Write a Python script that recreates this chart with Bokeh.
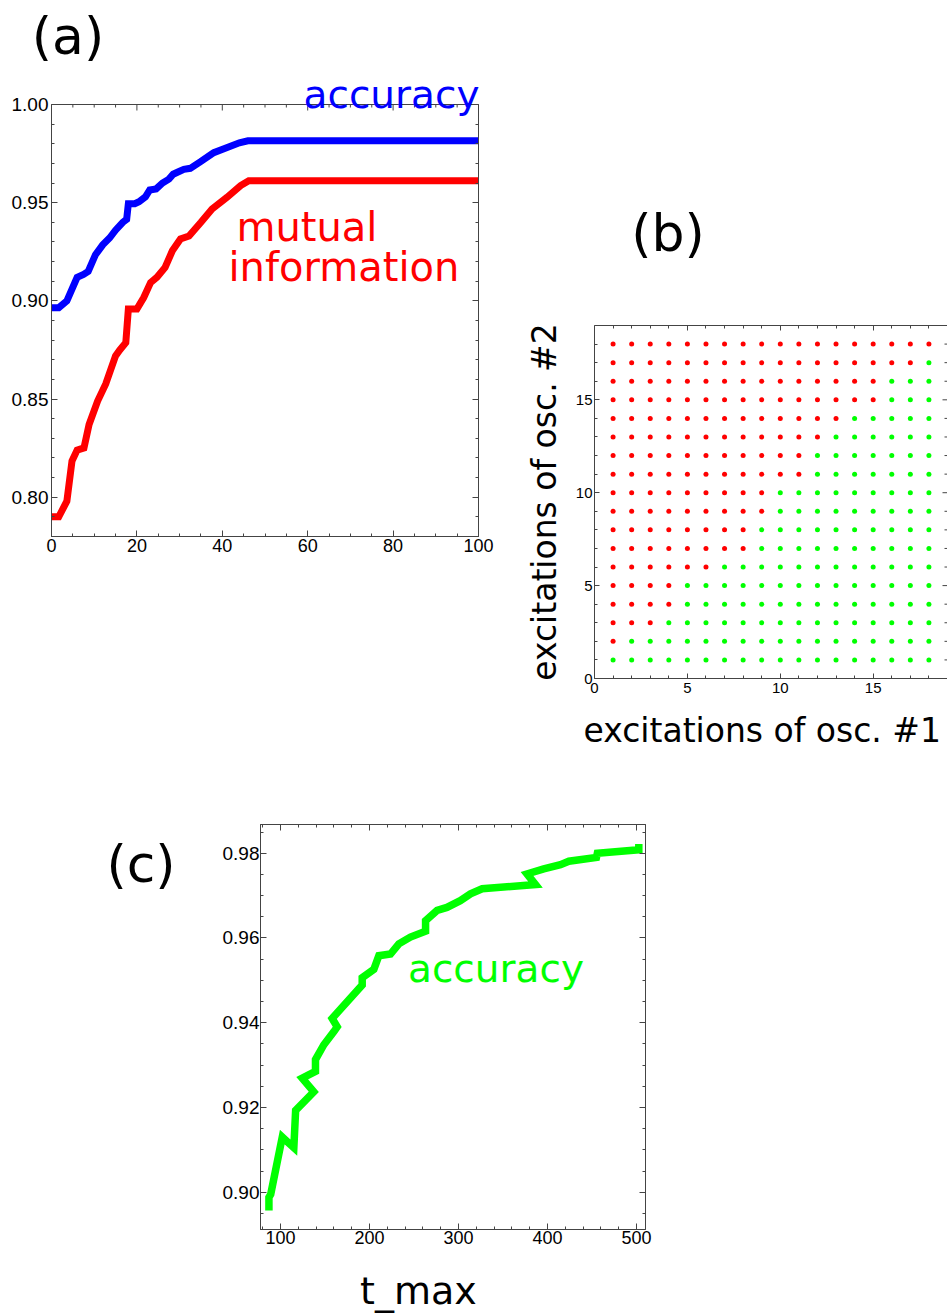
import math
from bokeh.plotting import figure
from bokeh.models import Range1d, LinearAxis, FixedTicker, Label, PrintfTickFormatter, Title
from bokeh.layouts import column, row
from bokeh.embed import file_html
from bokeh.resources import INLINE

# ---------------- data ----------------
# (a) accuracy / mutual information
acc_x = [0, 1.7, 3.6, 4.8, 6, 7.5, 8.6, 10.3, 12, 13.6, 15, 16.7, 17.6, 18, 19.5, 20.5,
         22, 23, 24.5, 26, 27.5, 28.5, 30, 31, 32.5, 35, 38, 41, 44, 46, 100]
acc_y = [0.8965, 0.8965, 0.900, 0.906, 0.912, 0.9135, 0.9150, 0.9235, 0.9285, 0.932, 0.936,
         0.940, 0.9415, 0.9495, 0.9495, 0.9505, 0.953, 0.9565, 0.957, 0.960, 0.962, 0.9645,
         0.966, 0.9670, 0.9675, 0.971, 0.9755, 0.978, 0.9805, 0.9815, 0.9815]
mi_x = [0, 1.7, 3.6, 4.8, 6, 7.6, 8.8, 10.8, 12.7, 15, 16, 17.4, 18, 20, 21.6, 23.2, 24.7,
        26.6, 28.3, 30.2, 32.2, 35, 37.6, 41.1, 44.3, 46.2, 100]
mi_y = [0.790, 0.790, 0.798, 0.8184, 0.824, 0.8251, 0.837, 0.849, 0.8577, 0.872, 0.875,
        0.8787, 0.8958, 0.8958, 0.9017, 0.9093, 0.912, 0.917, 0.9255, 0.9315, 0.933, 0.940,
        0.9468, 0.9527, 0.9587, 0.9612, 0.9612]

# (b) for each row (excitations of osc. #2 = 1..18): number of red points from the left
b_rows = list(range(1, 19))
b_cols = list(range(1, 19))
b_red_count = [0, 1, 3, 4, 4, 6, 8, 8, 9, 9, 11, 11, 12, 13, 15, 15, 17, 18]

# (c) accuracy vs t_max
c_t = [87, 87, 89, 102, 115, 117, 122.5, 137.4, 124.4, 139.3, 139.3, 148.7, 160, 163.7, 158,
       191.8, 191.8, 204.9, 210.5, 223.6, 233, 246, 263, 263, 276, 287, 302, 313.5, 326.6,
       386.5, 377, 395.8, 414.6, 424, 455, 456, 502.6, 502.6]
c_acc = [0.8957, 0.8988, 0.8995, 0.9130, 0.9105, 0.9193, 0.9205, 0.9237, 0.9269, 0.9285,
         0.9313, 0.9348, 0.9379, 0.9390, 0.9410, 0.9489, 0.9506, 0.9526, 0.9558, 0.9562,
         0.9586, 0.9602, 0.9616, 0.9641, 0.9665, 0.9672, 0.9688, 0.9704, 0.9716, 0.9726,
         0.9751, 0.9763, 0.9773, 0.9781, 0.9790, 0.9800, 0.9808, 0.9822]

# ticks
a_xticks = [0, 20, 40, 60, 80, 100]
a_xminor = [5, 10, 15, 25, 30, 35, 45, 50, 55, 65, 70, 75, 85, 90, 95]
a_yticks = [0.80, 0.85, 0.90, 0.95, 1.00]
a_yminor = [0.78, 0.79, 0.81, 0.82, 0.83, 0.84, 0.86, 0.87, 0.88, 0.89, 0.91, 0.92, 0.93,
            0.94, 0.96, 0.97, 0.98, 0.99]
b_ticks = [0, 5, 10, 15]
b_minor = [1, 2, 3, 4, 6, 7, 8, 9, 11, 12, 13, 14, 16, 17, 18]
c_xticks = [100, 200, 300, 400, 500]
c_xminor = [80, 120, 140, 160, 180, 220, 240, 260, 280, 320, 340, 360, 380, 420, 440, 460, 480]
c_yticks = [0.90, 0.92, 0.94, 0.96, 0.98]
c_yminor = [0.895, 0.905, 0.91, 0.915, 0.925, 0.93, 0.935, 0.945, 0.95, 0.955, 0.965, 0.97,
            0.975, 0.985]

TICK_FONT = "Liberation Sans"
LAB_FONT = "DejaVu Sans"
FRAME_COL = "#444444"
BASE_K = 0.38   # label anchor correction (fraction of font size)


def make_fig(w, h, xr, yr, bl, br, bt, bb, outline=True):
    p = figure(width=w, height=h, x_range=Range1d(*xr), y_range=Range1d(*yr), title=None,
               output_backend="svg", toolbar_location=None,
               min_border_left=bl, min_border_right=br, min_border_top=bt, min_border_bottom=bb,
               outline_line_color=FRAME_COL if outline else None,
               background_fill_color="white", border_fill_color="white")
    p.grid.visible = False
    return p


def text_fig(w, h, left, top):
    # blank canvas whose data coordinates are page pixels (y downwards)
    p = figure(width=w, height=h, x_range=Range1d(left, left + w),
               y_range=Range1d(top + h, top), title=None,
               output_backend="svg", toolbar_location=None,
               min_border_left=0, min_border_right=0, min_border_top=0, min_border_bottom=0,
               x_axis_type=None, y_axis_type=None, outline_line_color=None,
               background_fill_color="white", border_fill_color="white")
    return p


def style_axis(ax, fsize, maj, mnr, hidden=False):
    ax.major_tick_in = maj
    ax.major_tick_out = 0
    ax.minor_tick_in = mnr
    ax.minor_tick_out = 0
    ax.axis_line_color = FRAME_COL
    ax.major_tick_line_color = FRAME_COL
    ax.minor_tick_line_color = FRAME_COL
    ax.major_label_text_font = TICK_FONT
    ax.major_label_text_font_size = fsize
    ax.major_label_text_color = "black"
    if hidden:
        ax.major_label_text_font_size = "0px"
        ax.major_label_text_color = None
        ax.major_label_standoff = 0


def page_to_data(frame, xr, yr):
    fl, ft, fr, fb = frame

    def conv(px, py):
        x = xr[0] + (px - fl) / (fr - fl) * (xr[1] - xr[0])
        y = yr[1] - (py - ft) / (fb - ft) * (yr[1] - yr[0])
        return x, y
    return conv


def ident(px, py):
    return px, py


def lab(p, conv, text, px, py, size, color="black", align="left"):
    x, y = conv(px, py - BASE_K * size)
    p.add_layout(Label(x=x, y=y, text=text, text_font=LAB_FONT,
                       text_font_size="%dpx" % size, text_color=color, text_align=align,
                       text_baseline="alphabetic"))


# ---------------- panel (a) ----------------
A_XR = (0, 100)
A_YR = (0.78, 1.00)
A_FRAME = (51, 104, 478, 536)
pa = make_fig(515, 490, A_XR, A_YR, 51, 37, 28, 30)
pa.xaxis.ticker = FixedTicker(ticks=a_xticks, minor_ticks=a_xminor)
pa.yaxis.ticker = FixedTicker(ticks=a_yticks, minor_ticks=a_yminor)
pa.xaxis.formatter = PrintfTickFormatter(format="%d")
pa.yaxis.formatter = PrintfTickFormatter(format="%.2f")
style_axis(pa.xaxis[0], "18px", 6, 3)
style_axis(pa.yaxis[0], "19px", 6, 3)
pa.xaxis.major_label_standoff = 2
pa.yaxis.major_label_standoff = 3
ra = LinearAxis(ticker=FixedTicker(ticks=a_yticks, minor_ticks=a_yminor))
style_axis(ra, "18px", 6, 3, hidden=True)
pa.add_layout(ra, "right")
a_dy = (A_YR[1] - A_YR[0]) / (A_FRAME[3] - A_FRAME[1])
pa.segment(x0=a_xticks, y0=[A_YR[1]] * len(a_xticks), x1=a_xticks,
           y1=[A_YR[1] - 6 * a_dy] * len(a_xticks), line_color=FRAME_COL, line_width=1)
pa.segment(x0=a_xminor, y0=[A_YR[1]] * len(a_xminor), x1=a_xminor,
           y1=[A_YR[1] - 3 * a_dy] * len(a_xminor), line_color=FRAME_COL, line_width=1)
pa.line(acc_x, acc_y, line_color="#0000ff", line_width=7, line_join="miter")
pa.line(mi_x, mi_y, line_color="#ff0000", line_width=7, line_join="miter")
conv_a = page_to_data(A_FRAME, A_XR, A_YR)
lab(pa, conv_a, "mutual", 236, 242, 40, "#ff0000")
lab(pa, conv_a, "information", 228, 282, 40, "#ff0000")
pa.add_layout(Title(text="accuracy", align="right", vertical_align="bottom", offset=-1,
                    standoff=-24, text_font=LAB_FONT, text_font_size="39px",
                    text_font_style="normal", text_color="#0000ff"), "above")

text_a = text_fig(515, 76, 0, 0)
lab(text_a, ident, "(a)", 67.5, 55, 52, align="center")

# ---------------- panel (b) ----------------
B_XR = (0, 19)
B_YR = (0, 19)
pb = make_fig(432, 395, B_XR, B_YR, 79, 0, 12, 30, outline=False)
bxt = FixedTicker(ticks=b_ticks, minor_ticks=b_minor)
byt = FixedTicker(ticks=b_ticks, minor_ticks=b_minor)
pb.xaxis.ticker = bxt
pb.yaxis.ticker = byt
pb.xaxis.formatter = PrintfTickFormatter(format="%d")
pb.yaxis.formatter = PrintfTickFormatter(format="%d")
style_axis(pb.xaxis[0], "15px", 5, 3)
style_axis(pb.yaxis[0], "15px", 5, 3)
pb.xaxis.major_label_standoff = 4
pb.yaxis.major_label_standoff = 2
tb = LinearAxis(ticker=FixedTicker(ticks=b_ticks, minor_ticks=b_minor))
style_axis(tb, "15px", 5, 3, hidden=True)
pb.add_layout(tb, "above")
yax = pb.yaxis[0]
yax.axis_label = "excitations of osc. #2"
yax.axis_label_text_font = LAB_FONT
yax.axis_label_text_font_size = "33px"
yax.axis_label_text_font_style = "normal"
yax.axis_label_text_color = "black"
yax.axis_label_standoff = 9
b_dx = (B_XR[1] - B_XR[0]) / 353
# ticks of the right frame edge (the edge itself lies just off the page)
pb.segment(x0=[B_XR[1]] * len(b_ticks), y0=b_ticks, x1=[B_XR[1] - 5 * b_dx] * len(b_ticks),
           y1=b_ticks, line_color=FRAME_COL, line_width=1)
pb.segment(x0=[B_XR[1]] * len(b_minor), y0=b_minor, x1=[B_XR[1] - 3 * b_dx] * len(b_minor),
           y1=b_minor, line_color=FRAME_COL, line_width=1)
red_x, red_y, grn_x, grn_y = [], [], [], []
for yy, k in zip(b_rows, b_red_count):
    for xx in b_cols:
        if xx <= k:
            red_x.append(xx)
            red_y.append(yy)
        else:
            grn_x.append(xx)
            grn_y.append(yy)
pb.scatter(red_x, red_y, size=5, fill_color="#ff0000", line_color=None)
pb.scatter(grn_x, grn_y, size=5, fill_color="#00ff00", line_color=None)

text_b = text_fig(432, 313, 515, 0)
lab(text_b, ident, "(b)", 667.5, 252, 52, align="center")
text_x1 = text_fig(432, 52, 515, 708)
lab(text_x1, ident, "excitations of osc. #1", 583, 743, 33)

# ---------------- panel (c) ----------------
C_XR = (100 + (260 - 280) / 0.89, 100 + (645 - 280) / 0.89)
C_YR = (0.90 - 37.3 / 4237.5, 0.98 + 28.7 / 4237.5)
C_FRAME = (260, 824, 645, 1229)
pc = make_fig(747, 495, C_XR, C_YR, 60, 302, 64, 26)
pc.xaxis.ticker = FixedTicker(ticks=c_xticks, minor_ticks=c_xminor)
pc.yaxis.ticker = FixedTicker(ticks=c_yticks, minor_ticks=c_yminor)
pc.xaxis.formatter = PrintfTickFormatter(format="%d")
pc.yaxis.formatter = PrintfTickFormatter(format="%.2f")
style_axis(pc.xaxis[0], "18px", 6, 3)
style_axis(pc.yaxis[0], "19px", 6, 3)
pc.xaxis.major_label_standoff = 1
pc.yaxis.major_label_standoff = 1
tc = LinearAxis(ticker=FixedTicker(ticks=c_xticks, minor_ticks=c_xminor))
style_axis(tc, "18px", 6, 3, hidden=True)
pc.add_layout(tc, "above")
rc = LinearAxis(ticker=FixedTicker(ticks=c_yticks, minor_ticks=c_yminor))
style_axis(rc, "18px", 6, 3, hidden=True)
pc.add_layout(rc, "right")
pc.line(c_t, c_acc, line_color="#00ff00", line_width=7.5, line_join="miter")
conv_c = page_to_data(C_FRAME, C_XR, C_YR)
lab(pc, conv_c, "accuracy", 407.5, 983, 39, "#00ff00")

text_c = text_fig(200, 553, 0, 760)
lab(text_c, ident, "(c)", 140.5, 883, 52, align="center")
text_t = text_fig(747, 58, 200, 1255)
lab(text_t, ident, "t_max", 359.5, 1305, 38)

# ---------------- layout ----------------
colA = column(row(text_a), pa)
colB = column(row(text_b), pb, row(text_x1))
colC = column(pc, row(text_t))
layout = column(row(colA, colB), row(row(text_c), colC))
open("out.html", "w").write(file_html(layout, INLINE))
